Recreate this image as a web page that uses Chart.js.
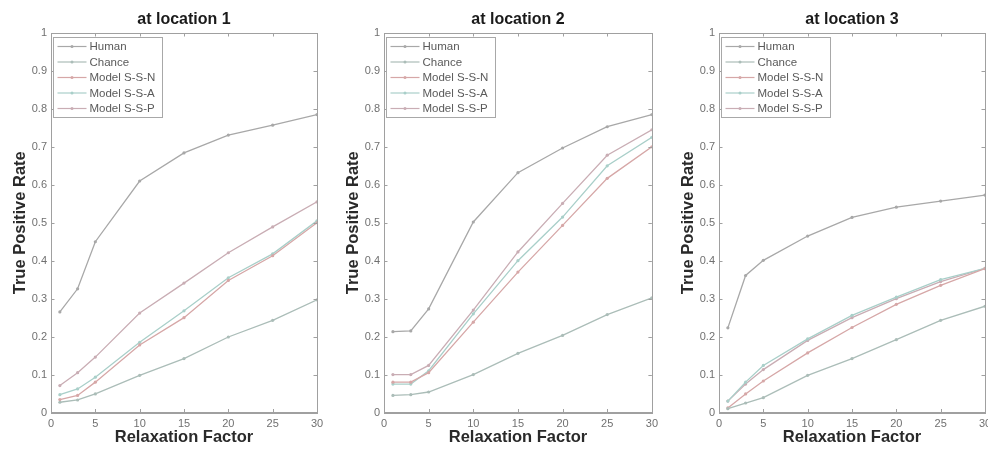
<!DOCTYPE html>
<html>
<head>
<meta charset="utf-8">
<script src="https://cdn.jsdelivr.net/npm/chart.js@4.4.1/dist/chart.umd.min.js"></script>
<style>
  html, body { margin: 0; padding: 0; background: #fff; width: 988px; height: 453px; overflow: hidden; position: relative; }
  .wrap { position: absolute; top: 0; height: 453px; }
  canvas { display: block; }
</style>
</head>
<body>
<div class="wrap" id="w1" style="left:0px;width:330px"><canvas id="c1" width="330" height="453"></canvas></div>
<div class="wrap" id="w2" style="left:333px;width:330px"><canvas id="c2" width="330" height="453"></canvas></div>
<div class="wrap" id="w3" style="left:668px;width:340px"><canvas id="c3" width="340" height="453"></canvas></div>
<script>
// ---- data ----
const relaxation = [1, 3, 5, 10, 15, 20, 25, 30];
const seriesNames = ["Human", "Chance", "Model S-S-N", "Model S-S-A", "Model S-S-P"];
const panelTitles = ["at location 1", "at location 2", "at location 3"];
const xTicks = [0, 5, 10, 15, 20, 25, 30];
const yTicks = [0, 0.1, 0.2, 0.3, 0.4, 0.5, 0.6, 0.7, 0.8, 0.9, 1];

const human1  = [0.265, 0.326, 0.450, 0.610, 0.684, 0.731, 0.757, 0.785];
const chance1 = [0.027, 0.033, 0.049, 0.098, 0.142, 0.199, 0.243, 0.297];
const ssn1    = [0.034, 0.045, 0.080, 0.178, 0.250, 0.348, 0.413, 0.500];
const ssa1    = [0.047, 0.062, 0.093, 0.185, 0.268, 0.355, 0.418, 0.505];
const ssp1    = [0.071, 0.105, 0.146, 0.262, 0.341, 0.421, 0.489, 0.555];

const human2  = [0.213, 0.215, 0.273, 0.502, 0.632, 0.697, 0.753, 0.785];
const chance2 = [0.045, 0.047, 0.054, 0.100, 0.156, 0.203, 0.258, 0.302];
const ssn2    = [0.080, 0.080, 0.105, 0.238, 0.370, 0.493, 0.617, 0.700];
const ssa2    = [0.075, 0.075, 0.110, 0.260, 0.400, 0.515, 0.650, 0.725];
const ssp2    = [0.100, 0.100, 0.124, 0.270, 0.423, 0.551, 0.678, 0.745];

const human3  = [0.223, 0.361, 0.401, 0.465, 0.514, 0.541, 0.557, 0.573];
const chance3 = [0.010, 0.025, 0.039, 0.098, 0.142, 0.192, 0.243, 0.280];
const ssn3    = [0.012, 0.049, 0.083, 0.157, 0.224, 0.285, 0.335, 0.379];
const ssa3    = [0.030, 0.080, 0.124, 0.194, 0.256, 0.304, 0.350, 0.380];
const ssp3    = [0.030, 0.075, 0.113, 0.190, 0.250, 0.300, 0.345, 0.380];

// ---- style ----
const seriesColors = ["#a8a8a8", "#abbdb8", "#d6a7a7", "#a9cfc9", "#c9adb4"];
const FONT = "'Liberation Sans', Arial, sans-serif";
const frameColor = "#a0a0a0";
const tickTextColor = "#707070";

const framePlugin = {
  id: "frameTicks",
  afterDraw(chart) {
    const {ctx, chartArea: a, scales} = chart;
    ctx.save();
    ctx.strokeStyle = frameColor;
    ctx.lineWidth = 1;
    ctx.strokeRect(Math.round(a.left) + 0.5, Math.round(a.top) + 0.5,
                   Math.round(a.right - a.left), Math.round(a.bottom - a.top));
    const L = 3.5;
    ctx.beginPath();
    xTicks.forEach(v => {
      const px = Math.round(scales.x.getPixelForValue(v)) + 0.5;
      ctx.moveTo(px, a.bottom); ctx.lineTo(px, a.bottom - L);
      ctx.moveTo(px, a.top); ctx.lineTo(px, a.top + L);
    });
    yTicks.forEach(v => {
      const py = Math.round(scales.y.getPixelForValue(v)) + 0.5;
      ctx.moveTo(a.left, py); ctx.lineTo(a.left + L, py);
      ctx.moveTo(a.right, py); ctx.lineTo(a.right - L, py);
    });
    ctx.stroke();
    ctx.restore();
  }
};

const legendPlugin = {
  id: "innerLegend",
  afterDraw(chart) {
    const {ctx, chartArea: a} = chart;
    const x0 = Math.round(a.left) + 2.5, y0 = Math.round(a.top) + 4.5;
    const w = 109, h = 80;
    ctx.save();
    ctx.fillStyle = "#fff";
    ctx.fillRect(x0, y0, w, h);
    ctx.strokeStyle = "#a8a8a8";
    ctx.lineWidth = 1;
    ctx.strokeRect(x0, y0, w, h);
    ctx.font = "11.5px " + FONT;
    ctx.textBaseline = "middle";
    ctx.textAlign = "left";
    chart.data.datasets.forEach((ds, i) => {
      const y = y0 + 9 + i * 15.5;
      ctx.strokeStyle = ds.borderColor;
      ctx.lineWidth = 1.2;
      ctx.beginPath();
      ctx.moveTo(x0 + 4, y); ctx.lineTo(x0 + 33, y);
      ctx.stroke();
      ctx.fillStyle = ds.borderColor;
      ctx.beginPath(); ctx.arc(x0 + 18.5, y, 1.5, 0, Math.PI * 2); ctx.fill();
      ctx.fillStyle = "#5a5a5a";
      ctx.fillText(ds.label, x0 + 36, y + 0.5);
    });
    ctx.restore();
  }
};

function makePanel(canvasId, title, seriesList, padRight) {
  const datasets = seriesList.map((vals, i) => ({
    label: seriesNames[i],
    data: relaxation.map((x, k) => ({x: x, y: vals[k]})),
    borderColor: seriesColors[i],
    backgroundColor: seriesColors[i],
    borderWidth: 1.3,
    pointRadius: 1.6,
    pointHoverRadius: 1.6,
    pointBackgroundColor: seriesColors[i],
    pointBorderWidth: 0,
    tension: 0,
    fill: false
  }));
  return new Chart(document.getElementById(canvasId), {
    type: "line",
    data: { datasets },
    plugins: [framePlugin, legendPlugin],
    options: {
      responsive: false,
      animation: false,
      events: [],
      layout: { padding: { left: 0, right: padRight, top: 0, bottom: 0 } },
      plugins: {
        legend: { display: false },
        tooltip: { enabled: false },
        title: {
          display: true,
          text: title,
          fullSize: false,
          color: "#1a1a1a",
          font: { family: FONT, size: 16, weight: "bold" },
          padding: { top: 10, bottom: 3.8 }
        }
      },
      scales: {
        x: {
          type: "linear",
          min: 0, max: 30,
          afterBuildTicks: s => { s.ticks = xTicks.map(v => ({value: v})); },
          afterFit: s => { s.height = 40.5; },
          grid: { display: false, drawTicks: false },
          border: { display: true, color: frameColor },
          ticks: { color: tickTextColor, font: { family: FONT, size: 11 }, padding: 5, maxRotation: 0, autoSkip: false,
                   callback: v => String(v) },
          title: { display: true, text: "Relaxation Factor", color: "#2a2a2a",
                   font: { family: FONT, size: 16.5, weight: "bold" }, padding: { top: 0, bottom: 5.6 } }
        },
        y: {
          type: "linear",
          min: 0, max: 1,
          afterBuildTicks: s => { s.ticks = yTicks.map(v => ({value: v})); },
          afterFit: s => { s.width = 51; },
          grid: { display: false, drawTicks: false },
          border: { display: true, color: frameColor },
          ticks: { color: tickTextColor, font: { family: FONT, size: 11 }, padding: 4, autoSkip: false,
                   callback: v => String(Math.round(v * 10) / 10) },
          title: { display: true, text: "True Positive Rate", color: "#2a2a2a",
                   font: { family: FONT, size: 16.5, weight: "bold" }, padding: { top: 10.6, bottom: 0 } }
        }
      }
    }
  });
}

makePanel("c1", panelTitles[0], [human1, chance1, ssn1, ssa1, ssp1], 13);
makePanel("c2", panelTitles[1], [human2, chance2, ssn2, ssa2, ssp2], 11);
makePanel("c3", panelTitles[2], [human3, chance3, ssn3, ssa3, ssp3], 23);
</script>
</body>
</html>
